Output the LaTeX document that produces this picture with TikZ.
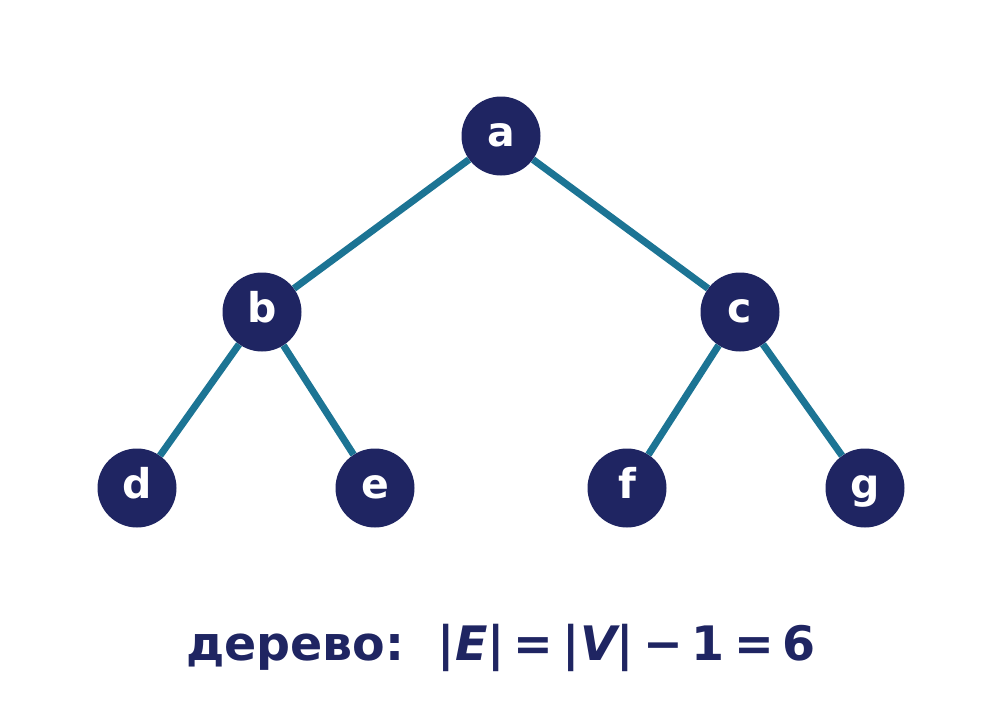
\documentclass[tikz,border=0pt]{standalone}
\usepackage{fontspec}
\setmainfont{DejaVu Sans}
\usepackage{tikz}
\usetikzlibrary{positioning}

\definecolor{navy}{HTML}{1F2562}
\definecolor{teal}{HTML}{1C7494}

\begin{document}
\begin{tikzpicture}[x=1pt,y=-1pt,
		vertex/.style={circle,fill=navy,text=white,inner sep=0pt,minimum size=79pt,
			text height=30pt,text depth=10pt,
			font=\bfseries\fontsize{41}{41}\selectfont},
		tree edge/.style={draw=teal,line width=7pt}
	]
	\useasboundingbox (0,0) rectangle (1002,710);

		\node[vertex] (a) at (501,136) {a};
		\node[vertex] (b) [on grid,below left=176pt and 239pt of a] {b};
		\node[vertex] (c) [on grid,below right=176pt and 239pt of a] {c};
		\node[vertex] (d) [on grid,below left=176pt and 125pt of b] {d};
		\node[vertex] (e) [on grid,below right=176pt and 113pt of b] {e};
		\node[vertex] (f) [on grid,below left=176pt and 113pt of c] {f};
		\node[vertex] (g) [on grid,below right=176pt and 125pt of c] {g};

		\draw[tree edge] (a) -- (b);
		\draw[tree edge] (a) -- (c);
		\draw[tree edge] (b) -- (d);
		\draw[tree edge] (b) -- (e);
		\draw[tree edge] (c) -- (f);
		\draw[tree edge] (c) -- (g);

		% bottom formula
		\node[text=navy,font=\bfseries\fontsize{47.5}{47.5}\selectfont] (formula) at (501,648)
			{дерево:\hspace{0.7em}|{\itshape E}|\hspace{0.19em}=\hspace{0.19em}|{\itshape V}|\hspace{0.19em}−\hspace{0.19em}1\hspace{0.19em}=\hspace{0.19em}6};
\end{tikzpicture}
\end{document}
